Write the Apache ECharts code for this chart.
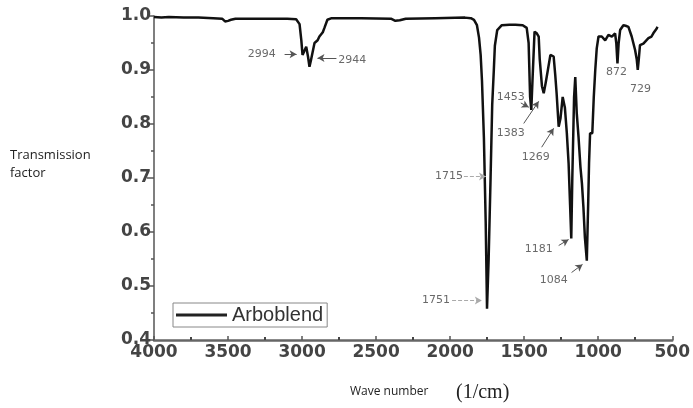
<!DOCTYPE html>
<html><head><meta charset="utf-8">
<script src="https://cdn.jsdelivr.net/npm/echarts@6/dist/echarts.min.js"></script>
<style>html,body{margin:0;padding:0;background:#fff}#c{width:693px;height:408px}</style>
</head><body><div id="c"></div>
<script>
// Spectrum: wave number (1/cm) and transmission factor
const wavenumbers = [4000,3950,3900,3800,3700,3600,3540,3520,3500,3480,3450,3300,3200,3100,3040,3017,3005,2997,2985,2972,2960,2950,2940,2916,2895,2883,2860,2849,2829,2800,2600,2400,2370,2340,2300,2100,1900,1860,1839,1819,1805,1794,1785,1772,1760,1751,1740,1727,1716,1705,1698,1682,1651,1600,1559,1510,1483,1470,1460,1452,1444,1430,1415,1402,1395,1380,1368,1355,1340,1323,1301,1290,1281,1267,1255,1240,1234,1225,1212,1200,1190,1182,1175,1163,1155,1145,1133,1120,1110,1100,1090,1077,1068,1062,1055,1040,1030,1020,1010,998,976,953,931,908,886,878,870,862,852,830,815,796,774,751,740,733,726,718,695,661,640,628,605,600];
const transmission = [0.998,0.997,0.998,0.997,0.997,0.996,0.995,0.990,0.991,0.993,0.995,0.995,0.995,0.995,0.994,0.985,0.955,0.928,0.935,0.943,0.925,0.906,0.918,0.950,0.955,0.962,0.970,0.978,0.993,0.996,0.996,0.995,0.991,0.992,0.995,0.996,0.997,0.996,0.993,0.983,0.960,0.928,0.880,0.774,0.620,0.458,0.550,0.700,0.835,0.900,0.945,0.974,0.983,0.984,0.984,0.983,0.978,0.950,0.850,0.826,0.880,0.971,0.968,0.962,0.920,0.870,0.857,0.876,0.900,0.928,0.925,0.890,0.857,0.795,0.810,0.850,0.853,0.830,0.783,0.727,0.650,0.588,0.700,0.850,0.887,0.820,0.776,0.720,0.690,0.646,0.590,0.547,0.650,0.727,0.783,0.783,0.850,0.900,0.940,0.962,0.962,0.955,0.965,0.962,0.968,0.950,0.912,0.950,0.974,0.983,0.982,0.980,0.962,0.937,0.920,0.900,0.920,0.946,0.949,0.959,0.962,0.968,0.977,0.980];

// Peak annotations
const peakLabels = ['2994','2944','1453','1383','1269','1715','1751','1181','1084','872','729'];
const labelWn =    [3273, 2661, 1590, 1590, 1422, 2008, 2095, 1402, 1301, 877, 715];
const labelT =     [0.929,0.918,0.850,0.783,0.738,0.703,0.473,0.568,0.510,0.896,0.865];
// arrows: [fromWn, fromT, toWn, toT, dashed]
const arrows = [
  [3118,0.929,3037,0.929,false],
  [2768,0.922,2896,0.922,false],
  [1523,0.839,1469,0.831,false],
  [1503,0.801,1402,0.842,false],
  [1382,0.757,1301,0.792,false],
  [1907,0.703,1758,0.703,true],
  [1987,0.473,1786,0.473,true],
  [1267,0.575,1200,0.586,false],
  [1180,0.525,1106,0.540,false]
];

const seriesName = 'Arboblend';
const spectrum = wavenumbers.map((w,i)=>[w, transmission[i]]);
const labelData = peakLabels.map((t,i)=>[labelWn[i], labelT[i], t]);

const chart = echarts.init(document.getElementById('c'), null, {renderer:'canvas'});
chart.setOption({
  animation:false,
  backgroundColor:'#fff',
  grid:{left:154, right:19, top:16, bottom:68},
  legend:{
    left:173, top:303, padding:[2,4,2,3], itemGap:6,
    borderColor:'#888', borderWidth:1,
    itemWidth:51, itemHeight:3, icon:'rect',
    data:[seriesName],
    textStyle:{fontFamily:'Liberation Sans', fontSize:20, color:'#333'}
  },
  xAxis:{
    type:'value', inverse:true, min:500, max:4000, interval:500,
    axisLine:{show:true, onZero:false, lineStyle:{color:'#666', width:2.5}},
    axisTick:{show:true, inside:true, length:4, lineStyle:{color:'#555', width:1.5}},
    minorTick:{show:true, splitNumber:2, length:3, lineStyle:{color:'#444', width:2}},
    splitLine:{show:false},
    axisLabel:{fontFamily:'DejaVu Sans', fontWeight:'bold', fontSize:17, color:'#444', margin:4,
      formatter:v=>String(v)}
  },
  yAxis:{
    type:'value', min:0.4, max:1.0, interval:0.1,
    axisLine:{show:true, lineStyle:{color:'#555', width:1.5}},
    axisTick:{show:true, length:7, lineStyle:{color:'#555', width:1.5}},
    minorTick:{show:true, splitNumber:2, length:3, lineStyle:{color:'#555', width:1.5}},
    splitLine:{show:false},
    axisLabel:{fontFamily:'DejaVu Sans', fontWeight:'bold', fontSize:17, color:'#444', margin:3,
      formatter:v=>v.toFixed(1)}
  },
  series:[
    {
      name:seriesName, type:'line', data:spectrum, showSymbol:false, symbol:'none',
      lineStyle:{color:'#111', width:2.5}, itemStyle:{color:'#222'},
      z:3,
      markLine:{
        silent:true, animation:false,
        symbol:['none','arrow'], symbolSize:[6,7],
        label:{show:false},
        data: arrows.map(a=>[
          {coord:[a[0],a[1]], lineStyle:{type:a[4]?'dashed':'solid', color:a[4]?'#aaa':'#555', width:1}},
          {coord:[a[2],a[3]]}
        ])
      }
    },
    {
      type:'scatter', data:labelData, symbolSize:0, silent:true,
      label:{show:true, position:'inside', formatter:p=>p.value[2],
        fontFamily:'DejaVu Sans', fontSize:11, color:'#444'},
      z:5
    }
  ],
  graphic:[
    {type:'text', left:10, top:149, style:{text:'Transmission', font:'13px "Open Sans"', fill:'#222'}},
    {type:'text', left:10, top:167, style:{text:'factor', font:'13px "Open Sans"', fill:'#222'}},
    {type:'text', left:350, top:386, style:{text:'Wave number', font:'12px "Open Sans"', fill:'#222'}},
    {type:'text', left:456, top:383, style:{text:'(1/cm)', font:'20px "Liberation Serif"', fill:'#222'}}
  ]
});
</script>
</body></html>
